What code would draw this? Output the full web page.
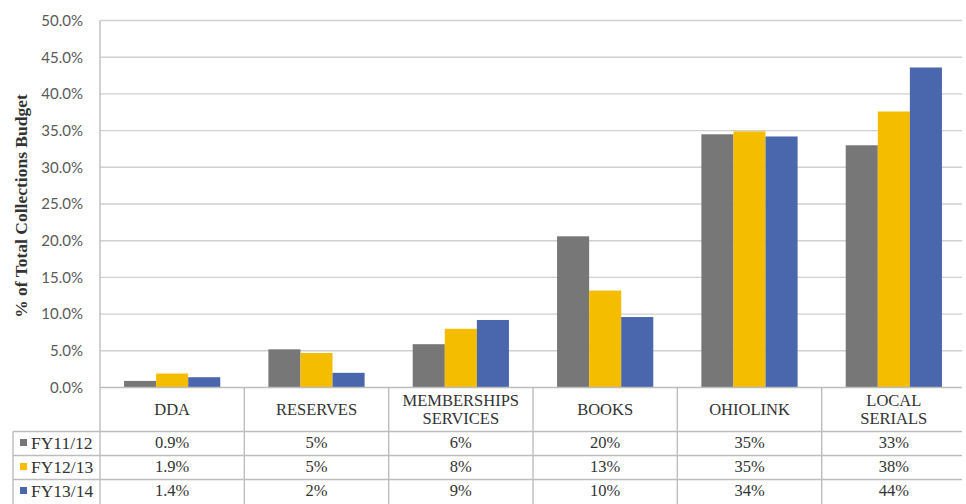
<!DOCTYPE html>
<html>
<head>
<meta charset="utf-8">
<script src="https://cdn.jsdelivr.net/npm/d3@7"></script>
<style>
  body { margin: 0; background: #fff; }
  svg { display: block; }
  .serif { font-family: 'Liberation Serif', 'Times New Roman', 'DejaVu Serif', serif; }
  .y-axis text { font-family: Lato, 'Open Sans', sans-serif; }
</style>
</head>
<body>
<div id="chart"></div>
<script>
// chart data
const categories = ['DDA', 'RESERVES', 'MEMBERSHIPS SERVICES', 'BOOKS', 'OHIOLINK', 'LOCAL SERIALS']
const headerLines = [['DDA'], ['RESERVES'], ['MEMBERSHIPS', 'SERVICES'], ['BOOKS'], ['OHIOLINK'], ['LOCAL', 'SERIALS']]
const seriesNames = ['FY11/12', 'FY12/13', 'FY13/14']
const fy1112 = [0.009, 0.052, 0.059, 0.206, 0.345, 0.330]
const fy1213 = [0.019, 0.047, 0.080, 0.132, 0.349, 0.376]
const fy1314 = [0.014, 0.020, 0.092, 0.096, 0.342, 0.436]
// the table under the chart shows rounded text
const tableFy1112 = ['0.9%', '5%', '6%', '20%', '35%', '33%']
const tableFy1213 = ['1.9%', '5%', '8%', '13%', '35%', '38%']
const tableFy1314 = ['1.4%', '2%', '9%', '10%', '34%', '44%']
const yTicks = [0, 0.05, 0.1, 0.15, 0.2, 0.25, 0.3, 0.35, 0.4, 0.45, 0.5]

const seriesValues = [fy1112, fy1213, fy1314]
const tableRows = [tableFy1112, tableFy1213, tableFy1314]

const width = 966
const height = 504
const plotLeft = 100
const plotRight = 966
const lineRight = 962
const plotTop = 20.5
const plotBottom = 387.5
const rowTops = [431.5, 455.5, 479.5, 503.5]
const legendLeft = 13

const svg = d3
  .select('#chart')
  .append('svg')
  .attr('width', width)
  .attr('height', height)

const xPositionScale = d3
  .scaleBand()
  .domain(categories)
  .range([plotLeft, plotRight])
  .paddingInner(1 / 3)
  .paddingOuter(1 / 6)
const xSeriesScale = d3
  .scaleBand()
  .domain(seriesNames)
  .range([0, xPositionScale.bandwidth()])
const yPositionScale = d3
  .scaleLinear()
  .domain([0, 0.5])
  .range([plotBottom, plotTop])
const colorScale = d3
  .scaleOrdinal()
  .domain(seriesNames)
  .range(['#777777', '#f5bd00', '#4a67ad'])

const gridColor = '#d0d0d0'
const tableColor = '#bdbdbd'

// gridlines
svg
  .append('g')
  .selectAll('line')
  .data(yTicks.filter(d => d > 0))
  .enter()
  .append('line')
  .attr('x1', plotLeft)
  .attr('x2', lineRight)
  .attr('y1', d => yPositionScale(d))
  .attr('y2', d => yPositionScale(d))
  .attr('stroke', gridColor)
  .attr('stroke-width', 1.4)

// y axis labels
const yAxis = d3
  .axisLeft(yPositionScale)
  .tickValues(yTicks)
  .tickFormat(d3.format('.1%'))
  .tickSize(0)
  .tickPadding(17)
svg
  .append('g')
  .attr('class', 'axis y-axis')
  .attr('transform', 'translate(' + plotLeft + ',0)')
  .call(yAxis)
svg.select('.y-axis .domain').remove()
svg
  .selectAll('.y-axis text')
  .attr('font-size', 15)
  .attr('fill', '#595959')

svg
  .append('text')
  .attr('class', 'serif')
  .attr('transform', 'translate(27,' + 206 + ') rotate(-90)')
  .attr('text-anchor', 'middle')
  .attr('font-weight', 'bold')
  .attr('font-size', 17.5)
  .attr('fill', '#333')
  .text('% of Total Collections Budget')

// bars
const groups = svg
  .append('g')
  .selectAll('g')
  .data(categories)
  .enter()
  .append('g')
  .attr('transform', d => 'translate(' + xPositionScale(d) + ',0)')
groups
  .selectAll('rect')
  .data((d, i) => seriesNames.map((s, j) => ({ series: s, value: seriesValues[j][i] })))
  .enter()
  .append('rect')
  .attr('x', d => xSeriesScale(d.series))
  .attr('width', xSeriesScale.bandwidth())
  .attr('y', d => yPositionScale(d.value))
  .attr('height', d => plotBottom - yPositionScale(d.value))
  .attr('fill', d => colorScale(d.series))

// data table
const step = xPositionScale.step()
const cellLeft = c => xPositionScale(c) - (step - xPositionScale.bandwidth()) / 2
const table = svg.append('g').attr('stroke', tableColor).attr('stroke-width', 1.4)

// vertical line at left of the plot, through the table
table
  .append('line')
  .attr('x1', plotLeft)
  .attr('x2', plotLeft)
  .attr('y1', plotTop)
  .attr('y2', height)
// column dividers
table
  .selectAll('.col-line')
  .data(categories.slice(1))
  .enter()
  .append('line')
  .attr('x1', d => cellLeft(d))
  .attr('x2', d => cellLeft(d))
  .attr('y1', plotBottom)
  .attr('y2', height)
// axis line at 0
table
  .append('line')
  .attr('x1', plotLeft)
  .attr('x2', lineRight)
  .attr('y1', plotBottom)
  .attr('y2', plotBottom)
// row lines (the last one falls just off the bottom edge)
table
  .selectAll('.row-line')
  .data(rowTops.slice(0, 3))
  .enter()
  .append('line')
  .attr('x1', legendLeft)
  .attr('x2', lineRight)
  .attr('y1', d => d)
  .attr('y2', d => d)
table
  .append('line')
  .attr('x1', legendLeft)
  .attr('x2', legendLeft)
  .attr('y1', rowTops[0])
  .attr('y2', height)

// header cells
categories.forEach((c, i) => {
  const lines = headerLines[i]
  const cx = cellLeft(c) + step / 2
  const cy = (plotBottom + rowTops[0]) / 2
  lines.forEach((t, k) => {
    svg
      .append('text')
      .attr('class', 'serif')
      .attr('x', cx)
      .attr('y', cy + (k - (lines.length - 1) / 2) * 18)
      .attr('dy', '0.35em')
      .attr('text-anchor', 'middle')
      .attr('font-size', 16.5)
      .attr('fill', '#333')
      .text(t)
  })
})

// table rows
tableRows.forEach((row, r) => {
  const cy = (rowTops[r] + rowTops[r + 1]) / 2 - 1
  svg
    .append('rect')
    .attr('x', 20)
    .attr('y', cy - 3.5)
    .attr('width', 7)
    .attr('height', 7)
    .attr('fill', colorScale(seriesNames[r]))
  svg
    .append('text')
    .attr('class', 'serif')
    .attr('x', 31)
    .attr('y', cy)
    .attr('dy', '0.35em')
    .attr('font-size', 17.5)
    .attr('fill', '#333')
    .text(seriesNames[r])
  row.forEach((t, i) => {
    svg
      .append('text')
      .attr('class', 'serif')
      .attr('x', cellLeft(categories[i]) + step / 2)
      .attr('y', cy)
      .attr('dy', '0.35em')
      .attr('text-anchor', 'middle')
      .attr('font-size', 16.5)
      .attr('fill', '#333')
      .text(t)
  })
})
</script>
</body>
</html>
